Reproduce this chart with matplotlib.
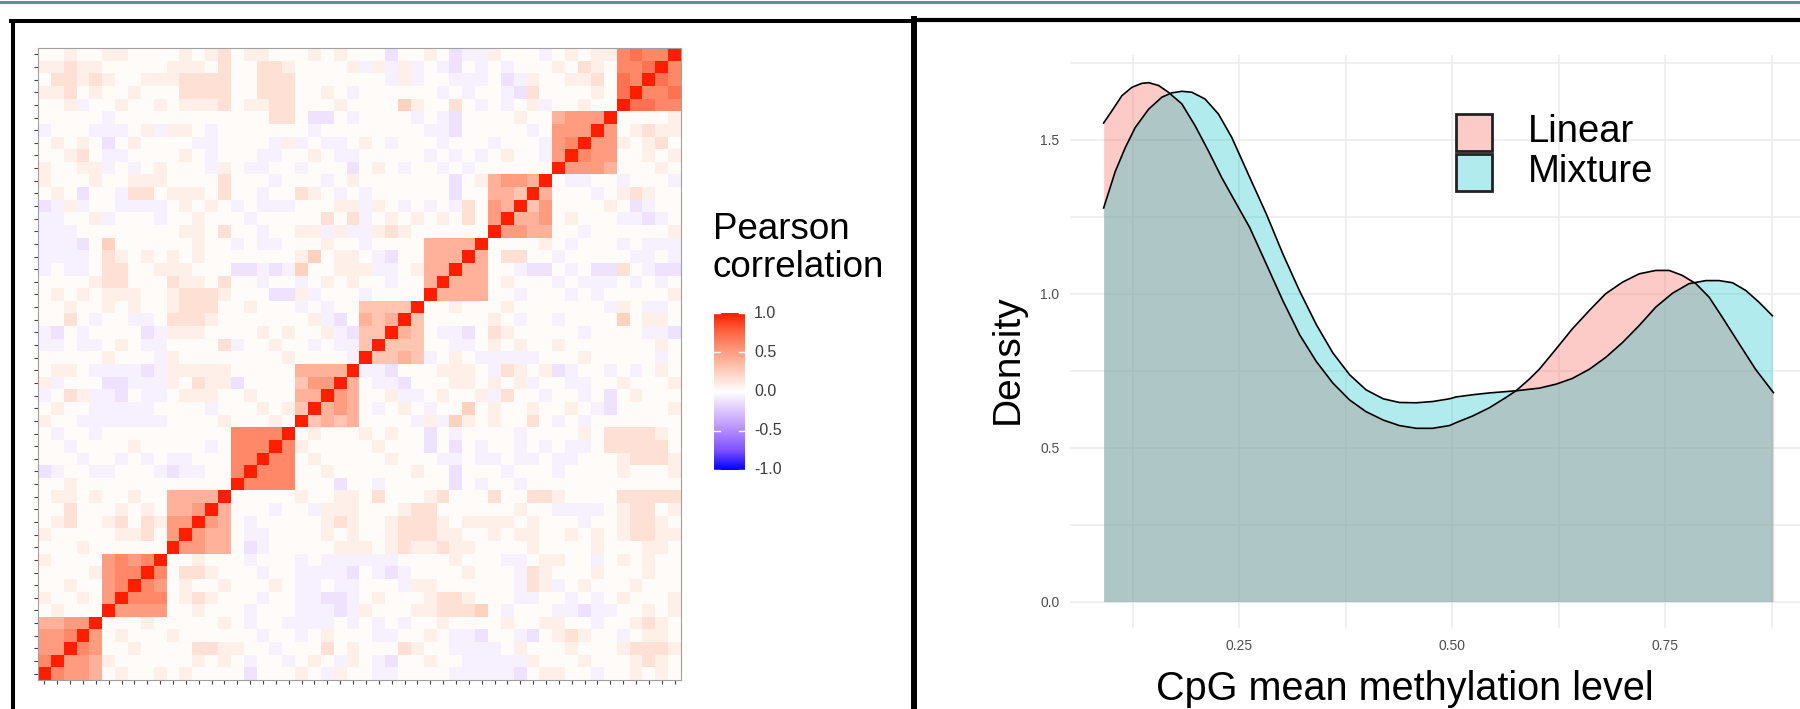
import numpy as np
import matplotlib
matplotlib.use('Agg')
import matplotlib.pyplot as plt
from matplotlib.colors import LinearSegmentedColormap, to_rgba
from matplotlib.lines import Line2D
from matplotlib.patches import Rectangle

plt.rcParams['font.family'] = ['Liberation Sans', 'DejaVu Sans']

# ---- heatmap data: upper triangle (row r, columns r+1..49)
# digits = block correlation in tenths, letters = faint off-block values
code_vals = {'.': 0.02, 'p': 0.085, 'P': 0.16, 'Q': 0.24, 'b': -0.06, 'B': -0.12}
upper_rows = [
    "6554 .p..p .p... .B... p.bp. .bb.. ..bbb bbB.p p..b. .p.p.",
    "554 p.... ..p.p .b..b .p.bp .bB.. p..bb bbbp. ..p.. .pPp.",
    "65 ..p.. ..PPp p..b. ..P.p ...Pp ..bbb b.p.. .p... pPPPp",
    "5 .p... p.... ..b.. b.p.. .bb.. p.bbB ..bB. pPp.. b.pp.",
    "...p. ....p .b..b bbb.b .b.b. .p... .p..p p..b. .pPp.",
    "5555 ..p.. .b... bbbBb p...p pPPPQ .b... bbBbb ..p.p",
    "666 .pPp. ..b.. bbBBb .p... pPPp. ..bb. .b.b. p...p",
    "65 .p..p ...p. bb.bb ...bp p.... ..bPp b.p.. .p...",
    "6 .PPp. ..b.. bbbbB .bBb. ...p. ..bPp ...p. ..p..",
    "..p.. .b... b.bbb bbb.. ..p.. .bb.p p..b. p.p..",
    "5544 .Bb.. ...pp p.pPp pPpp. ...p. ...p. ..pp.",
    "544 .bb.. ..p.p ..pPP Ppp.. p.pp. .p.p. pPPpp",
    "54 .b... ..pPp ..pPP Pp.pp pp.p. ..b.. pPPp.",
    "4 ...b. .bppp ...pP P.... ..p.. bbbb. pPP.p",
    "..... p..pp .P... pP... P..PP p.... PPPPP",
    "6666 ...B. .b... ..B.b ..b.. ..... .....",
    "666 ..p.. ....p ..B.. .b... b.... p...p",
    "66 .p... ..p.. .bb.b b.bb. bb... pPPPp",
    "6 p.... .p... B.B.b ..b.b .bb.P PPPP.",
    ".p... p.p.. B.b.. ..b.. ..p.P PPPp.",
    "3434 ....b pbQp. p..P. b.b.. .....",
    "454 .b.p. b..Q. p..p. .p.bB ....p",
    "54 ..pbb .p..p bP..b ..b.B .p...",
    "4 .bbB. ..pp. p.pb. .bb.. p...p",
    "bbB.. .ppp. bPp.p Bb..b .b.p.",
    "3343 b.p.b bbbb. ..p.. ...b.",
    "333 ..bb. p.p.. p.... ...p.",
    "43 .bbB. Pp... ..b.. ..bbB",
    "3 ..... p.b.. b.... Q.pp.",
    "..p.. .p... ....b p.bb.",
    "4444 ..b.. .b.b. ....p",
    "444 .p... b.bbb .b.b.",
    "44 ..bBB .b.BB P.bBB",
    "4 .PP.. b.... .bb.b",
    "....p .b... b.bbb",
    "5544 ..b.. ....p",
    "445 .p... bbBb.",
    "35 ....p .Bb..",
    "4 ...b. pPp..",
    ".bb.. b...b",
    "5554 ...p.",
    "655 ..p.p",
    "55 p.pP.",
    "5 .pPpp",
    "....p",
    "7766",
    "667",
    "76",
    "6",
]
cbar_ticks = [1.0, 0.5, 0.0, -0.5, -1.0]

# ---- density data
lin_x = [0.091, 0.1008, 0.1125, 0.1242, 0.136, 0.1438, 0.1555, 0.167, 0.1828,
         0.1984, 0.214, 0.2297, 0.2625, 0.282, 0.3016, 0.321, 0.3406, 0.360,
         0.3797, 0.399, 0.419, 0.438, 0.458, 0.477, 0.497, 0.5047, 0.524,
         0.5438, 0.563, 0.575, 0.5906, 0.6023, 0.622, 0.641, 0.661, 0.680,
         0.700, 0.7195, 0.739, 0.7547, 0.770, 0.786, 0.8016, 0.817, 0.837,
         0.856, 0.877]
lin_y = [1.555, 1.595, 1.644, 1.671, 1.684, 1.686, 1.677, 1.655, 1.617,
         1.546, 1.464, 1.377, 1.215, 1.096, 0.976, 0.867, 0.780, 0.710,
         0.655, 0.617, 0.590, 0.572, 0.563, 0.563, 0.572, 0.5815, 0.603,
         0.630, 0.663, 0.685, 0.723, 0.755, 0.821, 0.886, 0.946, 1.000,
         1.038, 1.065, 1.076, 1.076, 1.060, 1.033, 0.989, 0.924, 0.837,
         0.755, 0.679]
mix_x = [0.091, 0.1047, 0.1164, 0.128, 0.1438, 0.1594, 0.171, 0.1828, 0.1945,
         0.210, 0.2258, 0.2414, 0.2625, 0.282, 0.3016, 0.321, 0.3406, 0.360,
         0.3797, 0.399, 0.419, 0.438, 0.458, 0.477, 0.497, 0.5047, 0.524,
         0.5438, 0.575, 0.6023, 0.622, 0.641, 0.661, 0.680, 0.700, 0.7195,
         0.739, 0.7586, 0.778, 0.7977, 0.8133, 0.829, 0.8445, 0.860, 0.8758]
mix_y = [1.279, 1.398, 1.475, 1.540, 1.600, 1.639, 1.653, 1.658, 1.655,
         1.633, 1.584, 1.508, 1.378, 1.259, 1.128, 1.009, 0.900, 0.808,
         0.737, 0.688, 0.659, 0.647, 0.646, 0.650, 0.659, 0.665, 0.672,
         0.678, 0.685, 0.6935, 0.7065, 0.725, 0.755, 0.793, 0.842, 0.897,
         0.957, 1.002, 1.033, 1.043, 1.043, 1.036, 1.011, 0.973, 0.929]
groups = ['Linear', 'Mixture']

W, H = 1800, 709
fig = plt.figure(figsize=(W / 100, H / 100), dpi=100)


def fx(px):
    return px / W


def fy(py):
    return 1 - py / H


# build symmetric matrix
n = 50
corr = np.eye(n)
for r, s in enumerate(upper_rows):
    s = s.replace(' ', '')
    assert len(s) == n - 1 - r, (r, len(s))
    for k, ch in enumerate(s):
        c = r + 1 + k
        v = code_vals[ch] if ch in code_vals else int(ch) / 10
        corr[r, c] = v
        corr[c, r] = v

cmap = LinearSegmentedColormap.from_list('rwb', [
    (0.0, '#0000FF'), (0.125, '#7F52FF'), (0.25, '#B38BFF'), (0.375, '#DDC5FF'),
    (0.5, '#FFFFFF'), (0.625, '#FFD0BE'), (0.75, '#FF9E82'), (0.875, '#FF6846'),
    (1.0, '#FF1E00')])

# ---- left: heatmap
ax = fig.add_axes([fx(38), fy(680), fx(681) - fx(38), fy(48) - fy(680)])
ax.imshow(corr, origin='lower', cmap=cmap, vmin=-1, vmax=1,
          interpolation='nearest', aspect='auto')
ax.set_xticks(np.arange(n))
ax.set_yticks(np.arange(n))
ax.set_xticklabels([])
ax.set_yticklabels([])
ax.tick_params(length=3, width=0.8, color='#444444')
for sp in ax.spines.values():
    sp.set_color('#a0a0a0')
    sp.set_linewidth(0.8)

# colorbar
cax = fig.add_axes([fx(714), fy(470), fx(745) - fx(714), fy(313) - fy(470)])
grad = np.linspace(-1, 1, 256).reshape(-1, 1)
cax.imshow(grad, origin='lower', cmap=cmap, vmin=-1, vmax=1, aspect='auto',
           extent=[0, 1, -1, 1])
cax.set_xlim(0, 1)
cax.set_ylim(-1, 1)
cax.axis('off')
for t in cbar_ticks:
    cax.plot([0, 0.2], [t, t], color='white', lw=1)
    cax.plot([0.8, 1], [t, t], color='white', lw=1)
    ypx = 470 - (t + 1) / 2 * 157
    fig.text(fx(754), fy(ypx), f'{t:.1f}', ha='left', va='center',
             fontsize=11.5, color='#3c3c3c')
fig.text(fx(713), fy(238.6), 'Pearson', fontsize=26.5, va='baseline', ha='left')
fig.text(fx(713), fy(277), 'correlation', fontsize=26.5, va='baseline', ha='left')

# ---- right: density
dax = fig.add_axes([fx(1070.4), fy(627.6), fx(1807.5) - fx(1070.4),
                    fy(55) - fy(627.6)])
lin_fill = '#F8766D'
mix_fill = '#00BFC4'
dax.fill_between(lin_x, lin_y, 0, color=lin_fill, alpha=0.38, lw=0)
dax.plot(lin_x, lin_y, color='black', lw=1.2)
dax.fill_between(mix_x, mix_y, 0, color=mix_fill, alpha=0.3, lw=0)
dax.plot(mix_x, mix_y, color='black', lw=1.2)
dax.set_xlim(0.052, 0.917)
dax.set_ylim(-0.0845, 1.776)
dax.set_xticks([0.25, 0.5, 0.75])
dax.set_xticklabels(['0.25', '0.50', '0.75'])
dax.set_xticks([0.125, 0.375, 0.625, 0.875], minor=True)
dax.set_yticks([0.0, 0.5, 1.0, 1.5])
dax.set_yticklabels(['0.0', '0.5', '1.0', '1.5'])
dax.set_yticks([0.25, 0.75, 1.25, 1.75], minor=True)
dax.grid(True, which='both', color='#EBEBEB', lw=1.1)
dax.set_axisbelow(True)
dax.tick_params(which='both', length=0, labelsize=10, labelcolor='#4d4d4d',
                pad=8)
for sp in dax.spines.values():
    sp.set_visible(False)

fig.text(fx(1405), fy(700), 'CpG mean methylation level', fontsize=28.5,
         ha='center', va='baseline')
fig.text(fx(1008), fy(359), 'Density', fontsize=28, rotation=90,
         ha='center', va='center')

# legend
key_cols = [lin_fill, mix_fill]
key_alpha = [0.38, 0.3]
for i, g in enumerate(groups):
    top = 114 + i * 40
    fig.patches.append(Rectangle((fx(1456), fy(top + 36.5)), fx(36), 36.5 / H,
                                 transform=fig.transFigure, facecolor='white',
                                 edgecolor='none'))
    fig.patches.append(Rectangle((fx(1456), fy(top + 36.5)), fx(36), 36.5 / H,
                                 transform=fig.transFigure,
                                 facecolor=to_rgba(key_cols[i], key_alpha[i]),
                                 edgecolor='#222222', lw=2))
    fig.text(fx(1528), fy(top + 18), g, fontsize=27.5, ha='left', va='center')

# panel frames and top rule
fig.add_artist(Line2D([0, 1], [fy(1.5), fy(1.5)], color='#5f8f98', lw=2.2))
fig.add_artist(Line2D([fx(13), fx(13)], [fy(21), 0], color='black', lw=2.9))
fig.add_artist(Line2D([fx(11), fx(914)], [fy(21), fy(21)], color='black', lw=2.9))
fig.add_artist(Line2D([fx(914), fx(914)], [fy(18.5), 0], color='black', lw=4.3))
fig.add_artist(Line2D([fx(914), 1], [fy(20), fy(20)], color='black', lw=3))

fig.savefig('out.png', dpi=100)
